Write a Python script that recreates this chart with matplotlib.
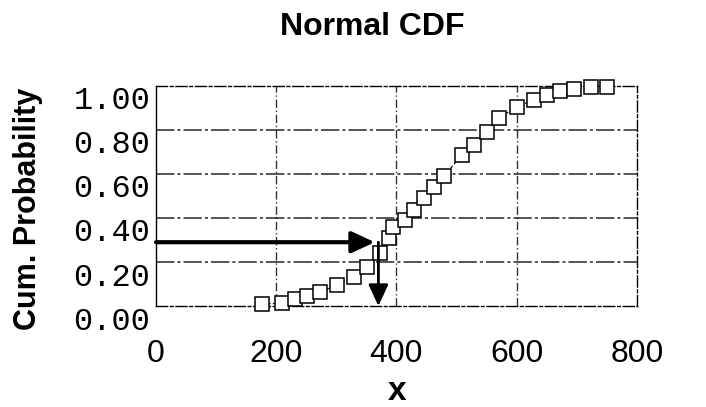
import matplotlib
matplotlib.use('Agg')
import matplotlib.pyplot as plt
import matplotlib.transforms as mtrans

# data
x_vals = [176, 209, 232, 251, 273, 301, 329, 351, 373, 387, 395, 415, 429, 446,
          462, 479, 509, 529, 551, 570, 601, 629, 651, 673, 696, 723, 751]
cum_prob = [0.01, 0.012, 0.03, 0.045, 0.065, 0.095, 0.133, 0.179, 0.24, 0.31,
            0.36, 0.39, 0.436, 0.49, 0.54, 0.59, 0.686, 0.73, 0.79, 0.853,
            0.906, 0.936, 0.959, 0.975, 0.985, 0.994, 0.994]
x_ticks = [0, 200, 400, 600, 800]
y_ticks = [0.0, 0.2, 0.4, 0.6, 0.8, 1.0]
y_ticklabels = ['0.00', '0.20', '0.40', '0.60', '0.80', '1.00']
arrow_prob = 0.29
arrow_x = 370

fig = plt.figure(figsize=(7.06, 4.07), dpi=100)
ax = fig.add_axes([0.221, 0.248, 0.681, 0.541])

ax.set_xlim(0, 800)
ax.set_ylim(0, 1)

# grid, scanned look
for gx in [200, 400, 600]:
    ax.axvline(gx, color='black', lw=1.0, ls=(0, (6, 2, 1, 2)), alpha=0.8, zorder=1)
for gy in [0.2, 0.4, 0.6, 0.8]:
    ax.axhline(gy, color='black', lw=1.1, ls=(0, (12, 2, 2, 2)), alpha=0.85, zorder=1)

for side in ['top', 'right', 'bottom']:
    ax.spines[side].set_linestyle((0, (8, 2, 2, 2)))
    ax.spines[side].set_linewidth(1.0)
ax.spines['left'].set_linewidth(1.0)

# data curve
ax.plot(x_vals, cum_prob, color='black', lw=0.8, ls=(0, (3, 2)),
        marker='s', markersize=10, markerfacecolor='white',
        markeredgecolor='black', markeredgewidth=1.1, zorder=3, clip_on=False)

# arrows: read probability -> x value
ax.annotate('', xy=(arrow_x - 6, arrow_prob), xytext=(0, arrow_prob),
            arrowprops=dict(arrowstyle='-|>,head_length=1.4,head_width=0.65',
                            color='black', lw=3, shrinkA=0, shrinkB=0), zorder=4)
ax.annotate('', xy=(arrow_x, 0.0), xytext=(arrow_x, arrow_prob),
            arrowprops=dict(arrowstyle='-|>,head_length=1.3,head_width=0.6',
                            color='black', lw=2, shrinkA=0, shrinkB=0), zorder=4)

ax.set_xticks(x_ticks)
ax.set_xticklabels([str(t) for t in x_ticks], fontsize=23,
                   family=['Liberation Sans', 'DejaVu Sans'])
ax.set_yticks(y_ticks)
ax.set_yticklabels(y_ticklabels, fontsize=23,
                   family=['Liberation Mono', 'DejaVu Sans Mono'])
ax.tick_params(axis='both', length=0)
ax.tick_params(axis='x', pad=24)
ax.tick_params(axis='y', pad=4)

# the y labels sit a bit lower than their grid lines in the picture
shift = mtrans.ScaledTranslation(0, -0.12, fig.dpi_scale_trans)
for lab in ax.get_yticklabels():
    lab.set_transform(lab.get_transform() + shift)

fig.text(372 / 706, 1 - 27 / 407, 'Normal CDF', ha='center', va='center',
         fontsize=23, fontweight='bold', family=['Liberation Sans', 'DejaVu Sans'])
fig.text(28 / 706, 1 - 209 / 407, 'Cum. Probability', ha='center', va='center',
         rotation=90, fontsize=22, fontweight='bold',
         family=['Liberation Sans', 'DejaVu Sans'])
fig.text(397 / 706, 1 - 392 / 407, 'x', ha='center', va='center',
         fontsize=24, fontweight='bold', family=['Liberation Sans', 'DejaVu Sans'])

fig.savefig('out.png', dpi=100)
